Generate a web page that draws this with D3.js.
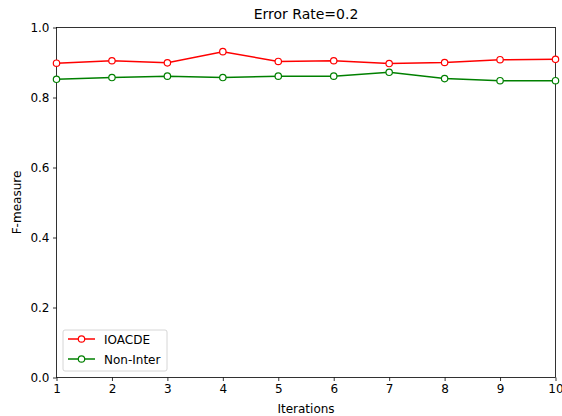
<!DOCTYPE html>
<html><head><meta charset="utf-8">
<script src="https://d3js.org/d3.v7.min.js"></script>
<style>body{margin:0;background:#fff}svg{display:block}text{font-family:"DejaVu Sans",sans-serif;fill:#000}</style>
</head><body><svg id="c" width="562" height="416"></svg>
<script>
const iterations = [1,2,3,4,5,6,7,8,9,10];
const ioacde = [0.898,0.905,0.899,0.931,0.903,0.905,0.897,0.900,0.908,0.909];
const nonInter = [0.852,0.857,0.861,0.857,0.861,0.861,0.872,0.854,0.848,0.848];
const xTicks = [1,2,3,4,5,6,7,8,9,10];
const yTicks = [0,0.2,0.4,0.6,0.8,1.0];
const seriesNames = ["IOACDE","Non-Inter"];
const seriesColors = ["#ff0000","#008000"];

const svg = d3.select("#c");
const L=56.5, R=555.5, T=27.5, B=377.5;
const x = d3.scaleLinear().domain([1,10]).range([L,R]);
const y = d3.scaleLinear().domain([0,1]).range([B,T]);

const xa = svg.append("g").attr("transform",`translate(0,${B})`)
  .call(d3.axisBottom(x).tickValues(xTicks).tickFormat(d3.format("d")).tickSize(3.5).tickPadding(3.5));
const ya = svg.append("g").attr("transform",`translate(${L},0)`)
  .call(d3.axisLeft(y).tickValues(yTicks).tickFormat(d3.format(".1f")).tickSize(3.5).tickPadding(3.5));
[xa,ya].forEach(a=>{a.select(".domain").remove();a.selectAll("text").style("font-size","12px").style("font-family","DejaVu Sans");a.selectAll("line").attr("stroke","#000").attr("stroke-width",0.8);});

svg.append("rect").attr("x",L).attr("y",T).attr("width",R-L).attr("height",B-T)
  .attr("fill","none").attr("stroke","#000").attr("stroke-width",0.8);

const data=[ioacde,nonInter];
const line=d3.line().x((d,i)=>x(iterations[i])).y(d=>y(d));
data.forEach((s,k)=>{
  svg.append("path").datum(s).attr("d",line).attr("fill","none").attr("stroke",seriesColors[k]).attr("stroke-width",1.5);
  svg.append("g").selectAll("circle").data(s).join("circle")
    .attr("cx",(d,i)=>x(iterations[i])).attr("cy",d=>y(d)).attr("r",3.2)
    .attr("fill","#fff").attr("stroke",seriesColors[k]).attr("stroke-width",1.2);
});

svg.append("text").attr("x",(L+R)/2).attr("y",19).attr("text-anchor","middle").style("font-size","14px").text("Error Rate=0.2");
svg.append("text").attr("x",(L+R)/2).attr("y",413).attr("text-anchor","middle").style("font-size","12px").text("Iterations");
svg.append("text").attr("transform",`translate(21,${(T+B)/2}) rotate(-90)`).attr("text-anchor","middle").style("font-size","12px").text("F-measure");

const lg=svg.append("g");
lg.append("rect").attr("x",63).attr("y",330).attr("width",104).attr("height",41).attr("rx",2)
  .attr("fill","#fff").attr("fill-opacity",0.8).attr("stroke","#ccc").attr("stroke-width",0.8);
seriesNames.forEach((n,k)=>{
  const yy=339+k*20;
  lg.append("line").attr("x1",68).attr("x2",95).attr("y1",yy).attr("y2",yy).attr("stroke",seriesColors[k]).attr("stroke-width",1.5);
  lg.append("circle").attr("cx",81.5).attr("cy",yy).attr("r",3.2).attr("fill","#fff").attr("stroke",seriesColors[k]).attr("stroke-width",1.2);
  lg.append("text").attr("x",104).attr("y",yy+4.5).style("font-size","12px").text(n);
});
</script></body></html>
